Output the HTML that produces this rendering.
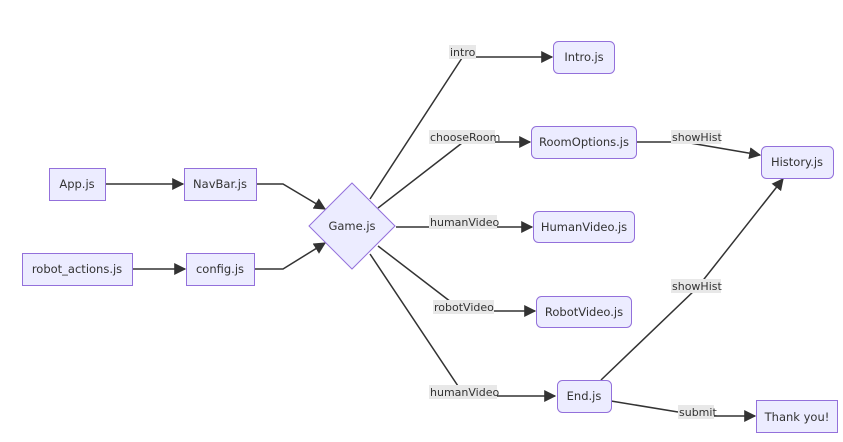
<!DOCTYPE html>
<html><head><meta charset="utf-8"><style>
html,body{margin:0;padding:0;background:#fff;}
svg{display:block;}
text{font-family:"DejaVu Sans","Liberation Sans",sans-serif;font-size:11.5px;fill:#333;}
.n{fill:#ECECFF;stroke:#9370DB;stroke-width:1;}
.e{fill:none;stroke:#333;stroke-width:1.5;}
.lb{fill:#e8e8e8;}
.l{font-size:11px;}
</style></head><body>
<svg width="843" height="442" viewBox="0 0 843 442" xmlns="http://www.w3.org/2000/svg">
<defs><marker id="a" viewBox="0 0 10 10" refX="9" refY="5" markerWidth="8" markerHeight="8" orient="auto"><path d="M0,0L10,5L0,10z" fill="#333"/></marker></defs>
<!-- edges -->
<path class="e" d="M105,184H183" marker-end="url(#a)"/>
<path class="e" d="M132,269H185" marker-end="url(#a)"/>
<path class="e" d="M256,184H283L325,209" marker-end="url(#a)"/>
<path class="e" d="M254,269H283L325,243" marker-end="url(#a)"/>
<path class="e" d="M370,199L462,58M476,57H552" marker-end="url(#a)"/>
<path class="e" d="M378,208L462,143M494,142H530" marker-end="url(#a)"/>
<path class="e" d="M396,227H430M497,227H532" marker-end="url(#a)"/>
<path class="e" d="M378,246L451,302M494,311H535" marker-end="url(#a)"/>
<path class="e" d="M370,254L458,386M497,396H555" marker-end="url(#a)"/>
<path class="e" d="M637,142H672M690,143L760,155" marker-end="url(#a)"/>
<path class="e" d="M601,380L697,288L783,179" marker-end="url(#a)"/>
<path class="e" d="M611,401L678,412M714,416H755" marker-end="url(#a)"/>
<!-- labels -->
<rect class="lb" x="449" y="45" width="27" height="14"/><text class="l" x="450" y="56">intro</text>
<rect class="lb" x="429" y="130" width="66" height="14"/><text class="l" x="430" y="141">chooseRoom</text>
<rect class="lb" x="429" y="215" width="68" height="14"/><text class="l" x="430" y="226">humanVideo</text>
<rect class="lb" x="433" y="300" width="61" height="14"/><text class="l" x="434" y="311">robotVideo</text>
<rect class="lb" x="429" y="385" width="68" height="14"/><text class="l" x="430" y="396">humanVideo</text>
<rect class="lb" x="671" y="130" width="50" height="14"/><text class="l" x="672" y="141">showHist</text>
<rect class="lb" x="671" y="279" width="50" height="14"/><text class="l" x="672" y="290">showHist</text>
<rect class="lb" x="678" y="405" width="36" height="14"/><text class="l" x="679" y="416">submit</text>
<!-- nodes -->
<rect class="n" x="49.5" y="168.5" width="56" height="32"/><text x="77" y="188" text-anchor="middle">App.js</text>
<rect class="n" x="184.5" y="168.5" width="72" height="32"/><text x="220" y="188" text-anchor="middle">NavBar.js</text>
<rect class="n" x="22.5" y="253.5" width="110" height="32"/><text x="77" y="273" text-anchor="middle">robot_actions.js</text>
<rect class="n" x="186.5" y="253.5" width="68" height="32"/><text x="220" y="273" text-anchor="middle">config.js</text>
<polygon class="n" points="352,183 395,226 352,269 309,226"/><text x="352" y="230" text-anchor="middle">Game.js</text>
<rect class="n" x="553.5" y="41.5" width="61" height="32" rx="5"/><text x="584" y="61" text-anchor="middle">Intro.js</text>
<rect class="n" x="531.5" y="126.5" width="105" height="32" rx="5"/><text x="584" y="146" text-anchor="middle">RoomOptions.js</text>
<rect class="n" x="761.5" y="146.5" width="72" height="32" rx="5"/><text x="797" y="166" text-anchor="middle">History.js</text>
<rect class="n" x="533.5" y="211.5" width="101" height="31" rx="5"/><text x="584" y="231" text-anchor="middle">HumanVideo.js</text>
<rect class="n" x="536.5" y="296.5" width="95" height="31" rx="5"/><text x="584" y="316" text-anchor="middle">RobotVideo.js</text>
<rect class="n" x="557.5" y="380.5" width="54" height="32" rx="5"/><text x="584" y="400" text-anchor="middle">End.js</text>
<rect class="n" x="756.5" y="400.5" width="81" height="32"/><text x="797" y="421" text-anchor="middle">Thank you!</text>
</svg>
</body></html>
